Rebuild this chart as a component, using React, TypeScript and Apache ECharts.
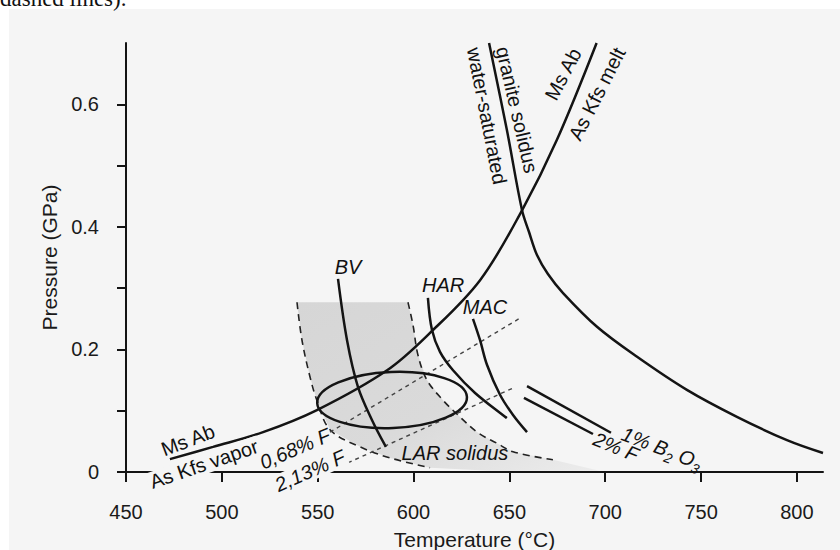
import React, { useEffect, useRef } from "react";
import * as echarts from "echarts";

// ---- axes ----
const xTickValues = [450, 500, 550, 600, 650, 700, 750, 800];
const yTickValues = [0, 0.1, 0.2, 0.3, 0.4, 0.5, 0.6];
const yLabelValues = [0, 0.2, 0.4, 0.6];

// ---- Ms Ab + As = Kfs + vapor / melt reaction curve ----
const reactionT = [472.9, 495.4, 521.5, 549.6, 586.2, 608.6, 634.7, 656.6, 674.8, 695.5];
const reactionP = [0.021, 0.041, 0.065, 0.101, 0.166, 0.227, 0.313, 0.427, 0.542, 0.7];

// ---- water-saturated granite solidus ----
const solidusT = [639.4, 648.7, 656.6, 660.2, 664.4, 670.1, 678.0, 695.7, 716.6, 742.6, 768.7, 794.8, 813.6];
const solidusP = [0.7, 0.558, 0.427, 0.392, 0.354, 0.323, 0.292, 0.237, 0.188, 0.134, 0.09, 0.052, 0.031];

// ---- granite solidi ----
const bvT = [560.6, 565.3, 571.0, 578.3, 585.6];
const bvP = [0.315, 0.215, 0.139, 0.085, 0.041];
const harT = [607.5, 609.6, 613.8, 620.6, 632.1, 648.7];
const harP = [0.284, 0.232, 0.196, 0.166, 0.129, 0.088];
const macT = [631.0, 634.7, 638.3, 645.1, 651.9, 659.2];
const macP = [0.25, 0.215, 0.175, 0.126, 0.093, 0.065];
const b2o3T = [659.2, 703.0];
const b2o3P = [0.14, 0.064];
const f2T = [657.6, 693.6];
const f2P = [0.121, 0.062];

// ---- fluorine lines (short dashes) ----
const f068T = [556.4, 655.5];
const f068P = [0.065, 0.251];
const f213T = [565.8, 651.9];
const f213P = [0.015, 0.137];

// ---- LAR solidus field (dashed boundaries) ----
const lowBoundT = [539.2, 541.8, 546.0, 549.6, 556.4, 572.1, 587.7, 608.6];
const lowBoundP = [0.277, 0.215, 0.155, 0.117, 0.069, 0.041, 0.023, 0.007];
const highBoundT = [597.1, 599.7, 602.3, 607.0, 615.4, 624.2, 633.6, 643.5, 651.9, 672.7];
const highBoundP = [0.277, 0.24, 0.191, 0.15, 0.117, 0.09, 0.064, 0.047, 0.033, 0.02];
const shadeTailT = [640.0, 697.0];
const shadeTailP = [0.002, 0.002];

// ---- ellipse (centre, half-axes) ----
const ellipseCenter = [588.8, 0.1175];
const ellipseRadius = [39.1, 0.0457];

// ---- labels ----
const labelText = [
  "Ms Ab", "As Kfs vapor", "0,68% F", "2,13% F", "BV", "HAR", "MAC", "LAR solidus",
  "1% B{s|2} O{s|3}", "2% F", "water-saturated", "granite solidus", "Ms Ab", "As Kfs melt",
];
const labelT = [482.3, 490.7, 538.2, 546.0, 565.8, 615.4, 637.3, 621.6, 729.6, 705.6, 638.3, 654.0, 678.0, 695.7];
const labelP = [0.052, 0.013, 0.038, 0.002, 0.334, 0.305, 0.269, 0.031, 0.039, 0.041, 0.581, 0.591, 0.649, 0.617];
const labelRot = [21, 19, 23, 24, 0, 0, 0, 0, -21, -22, -79, -77, 62, 63];
const labelItalic = [false, false, true, true, true, true, true, true, true, true, false, false, false, false];
const labelBg = [false, true, false, true, false, false, false, false, false, false, false, false, false, false];

const FONT = "'Liberation Sans', Arial, Helvetica, sans-serif";
const INK = "#141414";
const BG = "#f5f5f5";

const zip = (a: number[], b: number[]) => a.map((v, i) => [v, b[i]]);

function curve(name: string, t: number[], p: number[], extra: any = {}) {
  return {
    type: "line",
    name,
    data: zip(t, p),
    showSymbol: false,
    symbol: "none",
    smooth: extra.smooth ?? 0.35,
    silent: true,
    z: 3,
    lineStyle: { color: INK, width: 2.5, ...(extra.lineStyle || {}) },
  };
}

export default function App() {
  const ref = useRef<HTMLDivElement>(null);
  useEffect(() => {
    if (!ref.current) return;
    const chart = echarts.init(ref.current, null, { renderer: "svg" });
    const shadeT = [...lowBoundT, ...shadeTailT, ...highBoundT.slice().reverse()];
    const shadeP = [...lowBoundP, ...shadeTailP, ...highBoundP.slice().reverse()];
    const option: any = {
      animation: false,
      backgroundColor: "#ffffff",
      graphic: [
        { type: "rect", z: -100, shape: { x: 9, y: 9, width: 840, height: 560 }, style: { fill: BG } },
        {
          type: "text", z: -90, x: 0, y: 10,
          style: { text: "dashed lines).", font: "23px 'Liberation Serif', 'Times New Roman', serif", fill: "#111", verticalAlign: "bottom" },
        },
      ],
      grid: { left: 126, top: 43, right: 17, bottom: 78, containLabel: false, outerBoundsMode: "none" },
      xAxis: {
        type: "value", min: 450, max: 813.6, interval: 50,
        name: "Temperature (°C)", nameLocation: "middle", nameGap: 57,
        nameTextStyle: { fontSize: 21, color: "#1a1a1a", fontFamily: FONT },
        axisLine: { lineStyle: { color: INK, width: 2 } },
        axisTick: { length: 10, customValues: xTickValues, lineStyle: { color: INK, width: 2 } },
        axisLabel: { customValues: xTickValues, fontSize: 20, color: "#1a1a1a", margin: 30, fontFamily: FONT },
        splitLine: { show: false },
      },
      yAxis: {
        type: "value", min: 0, max: 0.7, interval: 0.1,
        name: "Pressure (GPa)", nameLocation: "middle", nameGap: 66,
        nameTextStyle: { fontSize: 21, color: "#1a1a1a", fontFamily: FONT },
        axisLine: { lineStyle: { color: INK, width: 2 } },
        axisTick: { length: 9, customValues: yTickValues, lineStyle: { color: INK, width: 2 } },
        axisLabel: {
          customValues: yLabelValues, fontSize: 20, color: "#1a1a1a", margin: 27, fontFamily: FONT,
          formatter: (v: number) => (v === 0 ? "0" : v.toFixed(1)),
        },
        splitLine: { show: false },
      },
      series: [
        {
          type: "custom", name: "LAR field", silent: true, z: 1,
          data: [[shadeT[0], shadeP[0]]],
          renderItem: (_p: any, api: any) => ({
            type: "polygon",
            shape: { points: shadeT.map((t, i) => api.coord([t, shadeP[i]])) },
            style: {
              fill: new echarts.graphic.LinearGradient(0, 0, 1, 1, [
                { offset: 0, color: "#d6d6d6" },
                { offset: 0.55, color: "#dadada" },
                { offset: 1, color: "#ececec" },
              ]),
            },
          }),
        },
        curve("low boundary", lowBoundT, lowBoundP, { lineStyle: { width: 1.6, type: [7, 5], color: "#222" } }),
        curve("high boundary", highBoundT, highBoundP, { lineStyle: { width: 1.6, type: [7, 5], color: "#222" } }),
        curve("0.68% F", f068T, f068P, { smooth: false, lineStyle: { width: 1.4, type: [4, 4], color: "#444" } }),
        curve("2.13% F", f213T, f213P, { smooth: false, lineStyle: { width: 1.4, type: [4, 4], color: "#444" } }),
        curve("reaction", reactionT, reactionP),
        curve("granite solidus", solidusT, solidusP),
        curve("BV", bvT, bvP),
        curve("HAR", harT, harP),
        curve("MAC", macT, macP),
        curve("1% B2O3", b2o3T, b2o3P, { smooth: false }),
        curve("2% F", f2T, f2P, { smooth: false }),
        {
          type: "custom", name: "ellipse", silent: true, z: 4,
          data: [ellipseCenter],
          renderItem: (_p: any, api: any) => {
            const c = api.coord([api.value(0), api.value(1)]);
            const s = api.size(ellipseRadius);
            return {
              type: "ellipse", x: c[0], y: c[1], rotation: 0.04,
              shape: { cx: 0, cy: 0, rx: s[0], ry: s[1] },
              style: { fill: "none", stroke: INK, lineWidth: 2.5 },
            };
          },
        },
        {
          type: "custom", name: "labels", silent: true, z: 6,
          data: zip(labelT, labelP),
          renderItem: (params: any, api: any) => {
            const i = params.dataIndex;
            const c = api.coord([api.value(0), api.value(1)]);
            const style: any = {
              text: labelText[i], fontSize: 20, fontFamily: FONT,
              fontStyle: labelItalic[i] ? "italic" : "normal",
              fill: "#111", align: "center", verticalAlign: "middle",
              rich: { s: { fontSize: 14, fontFamily: FONT, fontStyle: "italic", fill: "#111", padding: [14, 0, 0, 0] } },
            };
            if (labelBg[i]) { style.backgroundColor = BG; style.padding = [0, 2]; }
            return { type: "text", x: c[0], y: c[1], rotation: (labelRot[i] * Math.PI) / 180, style };
          },
        },
      ],
    };
    chart.setOption(option);
    return () => chart.dispose();
  }, []);
  return <div ref={ref} style={{ position: "absolute", left: 0, top: 0, width: 840, height: 550 }} />;
}
